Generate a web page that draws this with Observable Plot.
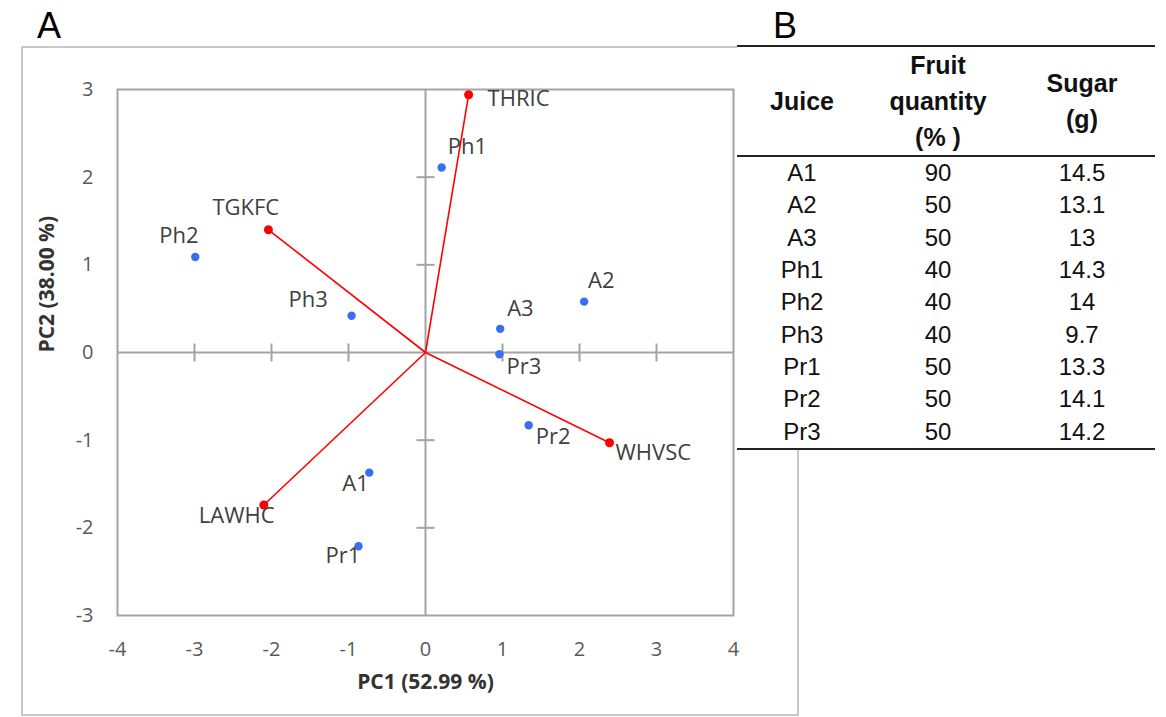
<!DOCTYPE html>
<html>
<head>
<meta charset="utf-8">
<script src="https://cdn.jsdelivr.net/npm/d3@7"></script>
<script src="https://cdn.jsdelivr.net/npm/@observablehq/plot@0.6"></script>
<style>
  body { margin: 0; background: #fff; }
  #wrap { position: relative; width: 1166px; height: 717px; overflow: hidden; background: #fff; }
  #frameA { position: absolute; left: 21px; top: 46px; width: 778px; height: 670px; border: 2px solid #c8c8c8; box-sizing: border-box; }
  #chart { position: absolute; left: 0; top: 0; }
  .panel { position: absolute; font-family: "Liberation Sans", Arial, sans-serif; font-size: 36px; line-height: 1; color: #000; }
  #tableB { position: absolute; left: 737px; top: 45px; width: 418px; background: #fff;
            font-family: "Liberation Sans", Arial, sans-serif; color: #111;
            border-top: 2px solid #222; border-bottom: 2px solid #222; }
  #tableB .head { display: flex; height: 108px; border-bottom: 2px solid #222; align-items: center;
                  font-weight: bold; font-size: 25px; line-height: 36px; }
  #tableB .row { display: flex; height: 32.3px; align-items: center; font-size: 24px; line-height: 1; }
  #tableB .c1 { width: 130px; text-align: center; }
  #tableB .c2 { width: 142px; text-align: center; }
  #tableB .c3 { width: 146px; text-align: center; }
</style>
</head>
<body>
<div id="wrap">
  <div id="frameA"></div>
  <div id="chart"></div>
  <div class="panel" style="left:37px;top:8px;">A</div>
  <div id="tableB"></div>
  <div class="panel" style="left:773px;top:8px;">B</div>
</div>
<script>
// ---- Data ----
const variables = ["THRIC", "TGKFC", "LAWHC", "WHVSC"];
const variablePC1 = [0.56, -2.04, -2.10, 2.39];
const variablePC2 = [2.94, 1.40, -1.74, -1.03];

const juices = ["A1", "A2", "A3", "Ph1", "Ph2", "Ph3", "Pr1", "Pr2", "Pr3"];
const juicePC1 = [-0.73, 2.06, 0.97, 0.21, -2.99, -0.96, -0.87, 1.34, 0.96];
const juicePC2 = [-1.37, 0.58, 0.27, 2.11, 1.09, 0.42, -2.21, -0.83, -0.02];

const fruitQuantity = [90, 50, 50, 40, 40, 40, 50, 50, 50];
const sugar = ["14.5", "13.1", "13", "14.3", "14", "9.7", "13.3", "14.1", "14.2"];

const xTicks = [-4, -3, -2, -1, 0, 1, 2, 3, 4];
const yTicks = [-3, -2, -1, 0, 1, 2, 3];
const xTitle = "PC1 (52.99 %)";
const yTitle = "PC2 (38.00 %)";
const tableHeaders = ["Juice", "Fruit<br>quantity<br>(% )", "Sugar<br>(g)"];

// ---- Presentation (label placement in pixels, relative to point) ----
const labelOffset = {
  THRIC: [19, 4], TGKFC: [-56, -22], LAWHC: [-65, 11], WHVSC: [6, 10],
  A1: [-27, 11], A2: [4, -21], A3: [7, -20],
  Ph1: [6, -21], Ph2: [-36, -21], Ph3: [-63, -16],
  Pr1: [-33, 10], Pr2: [7, 12], Pr3: [7, 13]
};

const loadings = variables.map((name, i) => ({name, pc1: variablePC1[i], pc2: variablePC2[i]}));
const scores = juices.map((name, i) => ({name, pc1: juicePC1[i], pc2: juicePC2[i]}));

const axisGray = "#a3a3a3";
const vTick = {draw(ctx, size) { const r = Math.sqrt(size / Math.PI); ctx.moveTo(0, -r); ctx.lineTo(0, r); }};
const hTick = {draw(ctx, size) { const r = Math.sqrt(size / Math.PI); ctx.moveTo(-r, 0); ctx.lineTo(r, 0); }};

const labelMarks = [...loadings, ...scores].map(d => Plot.text([d], {
  x: "pc1", y: "pc2", text: "name",
  dx: labelOffset[d.name][0], dy: labelOffset[d.name][1],
  textAnchor: "start", fontSize: 22, fill: "#404040"
}));

const chart = Plot.plot({
  width: 800,
  height: 717,
  marginLeft: 117,
  marginRight: 67,
  marginTop: 89,
  marginBottom: 102,
  x: {domain: [-4, 4], label: null},
  y: {domain: [-3, 3], label: null},
  style: {background: "transparent", fontFamily: "'Open Sans', sans-serif", overflow: "visible"},
  marks: [
    Plot.ruleX([0], {stroke: axisGray, strokeWidth: 2}),
    Plot.ruleY([0], {stroke: axisGray, strokeWidth: 2}),
    Plot.dot(xTicks.filter(t => t !== 0 && Math.abs(t) < 4), {x: d => d, y: 0, r: 9, symbol: vTick, stroke: axisGray, strokeWidth: 2, fill: "none"}),
    Plot.dot(yTicks.filter(t => t !== 0 && Math.abs(t) < 3), {x: 0, y: d => d, r: 9, symbol: hTick, stroke: axisGray, strokeWidth: 2, fill: "none"}),
    Plot.frame({stroke: axisGray, strokeWidth: 2}),
    Plot.axisX({ticks: xTicks, tickSize: 0, tickPadding: 26, tickFormat: d => String(d), fontSize: 20, color: "#595959", label: null}),
    Plot.axisY({ticks: yTicks, tickSize: 0, tickPadding: 24, tickFormat: d => String(d), fontSize: 20, color: "#595959", label: null}),
    Plot.text([xTitle], {text: d => d, frameAnchor: "bottom", dy: 73, fontWeight: "bold", fontSize: 21, fill: "#333"}),
    Plot.text([yTitle], {text: d => d, frameAnchor: "left", dx: -70, rotate: -90, fontWeight: "bold", fontSize: 21, fill: "#333"}),
    Plot.link(loadings, {x1: 0, y1: 0, x2: "pc1", y2: "pc2", stroke: "#ff0000", strokeWidth: 1.6}),
    Plot.dot(loadings, {x: "pc1", y: "pc2", r: 4.5, fill: "#ff0000"}),
    Plot.dot(scores, {x: "pc1", y: "pc2", r: 4.2, fill: "#3a6cf4"}),
    ...labelMarks
  ]
});
document.getElementById("chart").appendChild(chart);

// ---- Table B ----
const tb = document.getElementById("tableB");
let html = `<div class="head"><div class="c1">${tableHeaders[0]}</div><div class="c2">${tableHeaders[1]}</div><div class="c3">${tableHeaders[2]}</div></div>`;
juices.forEach((j, i) => {
  html += `<div class="row"><div class="c1">${j}</div><div class="c2">${fruitQuantity[i]}</div><div class="c3">${sugar[i]}</div></div>`;
});
tb.innerHTML = html;
</script>
</body>
</html>
